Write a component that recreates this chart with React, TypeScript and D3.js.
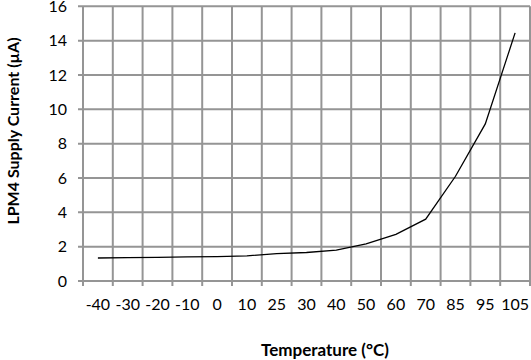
import React from "react";
import * as d3 from "d3";

const categories = ["-40", "-30", "-20", "-10", "0", "10", "25", "30", "40", "50", "60", "70", "85", "95", "105"];
const currentValues = [1.34, 1.36, 1.38, 1.4, 1.42, 1.46, 1.6, 1.66, 1.8, 2.16, 2.72, 3.6, 6.1, 9.15, 14.45];
const yTicks = [0, 2, 4, 6, 8, 10, 12, 14, 16];

const W = 531;
const H = 360;
const left = 83;
const right = 530;
const top = 6.3;
const bottom = 281;
const font = "Lato, 'Open Sans', sans-serif";
const gridColor = "#959595";

export default function App() {
  const x = d3.scaleBand<string>().domain(categories).range([left, right]).padding(0);
  const y = d3.scaleLinear().domain([0, 16]).range([bottom, top]);
  const line = d3
    .line<number>()
    .x((_, i) => (x(categories[i]) as number) + x.bandwidth() / 2)
    .y((d) => y(d));
  const boundaries = d3.range(categories.length + 1).map((i) => left + i * x.step());

  return (
    <svg width={W} height={H} style={{ position: "absolute", left: 0, top: 0 }}>
      <rect width={W} height={H} fill="#fff" />
      {yTicks.map((t) => (
        <g key={"y" + t}>
          <line x1={left - 5} x2={right} y1={y(t)} y2={y(t)} stroke={gridColor} strokeWidth={2} />
          <text x={67} y={y(t)} dy="0.35em" textAnchor="end" fontFamily={font} fontSize={16} fill="#000">
            {t}
          </text>
        </g>
      ))}
      {boundaries.map((bx, i) => (
        <line key={"x" + i} x1={bx} x2={bx} y1={top} y2={bottom + 5} stroke={gridColor} strokeWidth={2} />
      ))}
      {categories.map((c) => (
        <text
          key={"c" + c}
          x={(x(c) as number) + x.bandwidth() / 2}
          y={304}
          dy="0.35em"
          textAnchor="middle"
          fontFamily={font}
          fontSize={16}
          fill="#000"
        >
          {c}
        </text>
      ))}
      <path d={line(currentValues) || ""} fill="none" stroke="#000" strokeWidth={1.3} />
      <text x={325} y={350} dy="0.35em" textAnchor="middle" fontFamily={font} fontSize={17} fontWeight="bold">
        Temperature (°C)
      </text>
      <text
        transform={`translate(13,131) rotate(-90)`}
        dy="0.35em"
        textAnchor="middle"
        fontFamily={font}
        fontSize={16}
        fontWeight="bold"
      >
        LPM4 Supply Current (µA)
      </text>
    </svg>
  );
}
